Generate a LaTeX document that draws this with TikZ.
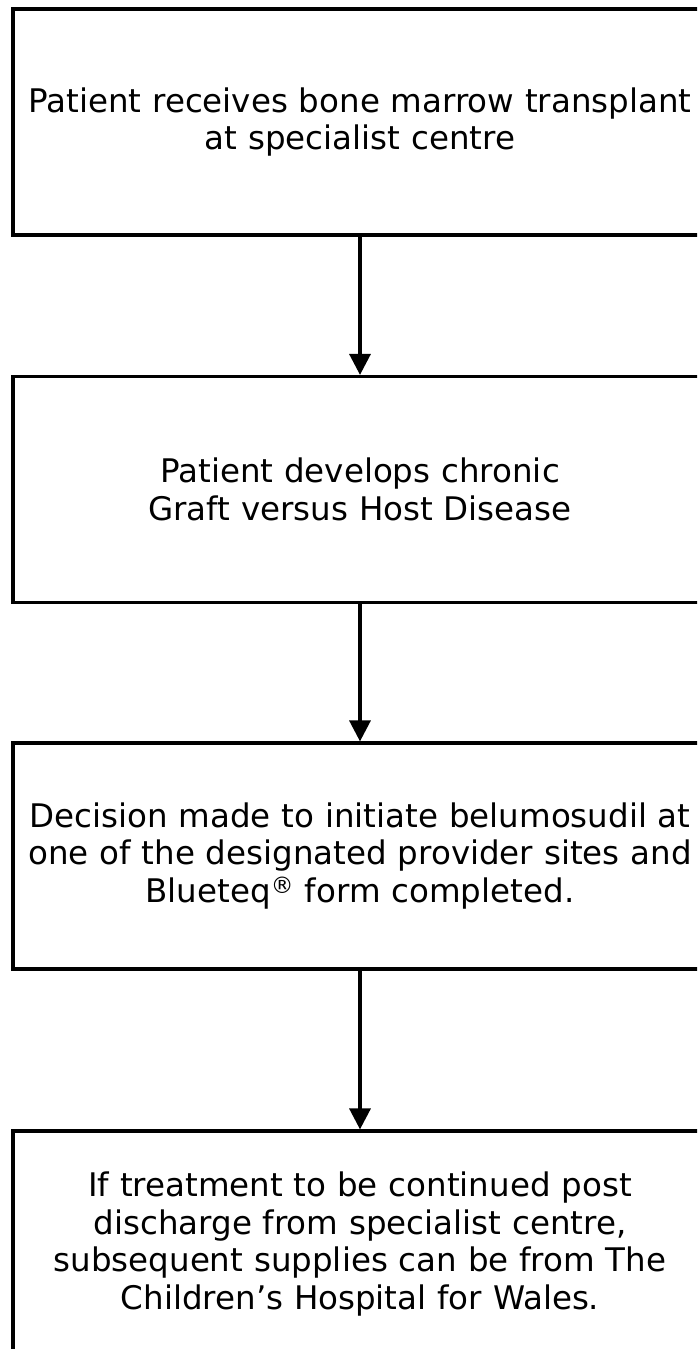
\documentclass[tikz,border=0pt]{standalone}
\usepackage{fontspec}
\setmainfont{DejaVu Sans}
\usetikzlibrary{arrows.meta}
\begin{document}
\begin{tikzpicture}[x=1pt,y=1pt,
  stepbox/.style={draw=black, line width=3.2pt, minimum width=694pt, minimum height=226pt,
    inner sep=0pt, align=center, text width=690pt,
    font=\fontsize{32.5}{37.5}\selectfont},
  flowarrow/.style={line width=3.4pt, -{Triangle[length=21pt,width=21pt]}}]
\useasboundingbox (0,0) rectangle (697,-1349);
\clip (0,0) rectangle (697,-1349);
\fill[white] (0,0) rectangle (697,-1349);
\node[stepbox] (b1) at (360,-122) {Patient receives bone marrow transplant\\at specialist centre};
\node[stepbox] (b2) at (360,-489.5) {Patient develops chronic\\Graft versus Host Disease};
\node[stepbox] (b3) at (360,-856) {Decision made to initiate belumosudil at\\one of the designated provider sites and\\Blueteq\textsuperscript{®} form completed.};
\node[stepbox] (b4) at (360,-1244) {If treatment to be continued post\\discharge from specialist centre,\\subsequent supplies can be from The\\Children’s Hospital for Wales.};
\draw[flowarrow] (b1.south) -- (b2.north);
\draw[flowarrow] (b2.south) -- (b3.north);
\draw[flowarrow] (b3.south) -- (b4.north);
\end{tikzpicture}
\end{document}
